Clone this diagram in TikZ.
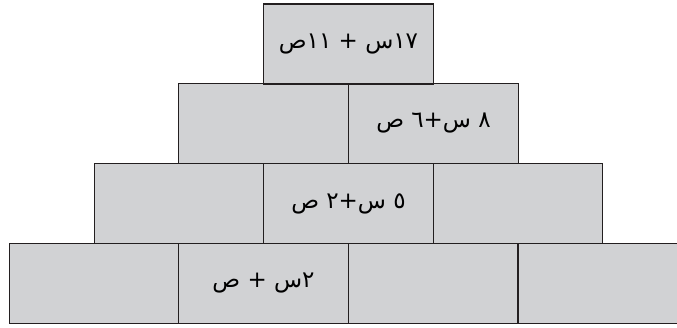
\documentclass[tikz,border=0pt]{standalone}
\usepackage{fontspec}
\newfontfamily\arabicfont[Script=Arabic]{DejaVu Sans}
\TeXXeTstate=1
\definecolor{brickfill}{RGB}{209,210,212}
\definecolor{brickline}{RGB}{35,31,32}
\begin{document}
\begin{tikzpicture}
[x=1pt,y=1pt,
brick/.style={rectangle,draw=brickline,fill=brickfill,line width=1.4pt,minimum width=169.5pt,minimum height=80pt,inner sep=0pt,font=\arabicfont\fontsize{23}{27}\selectfont}]
\useasboundingbox (0,0) rectangle (677,327);

\node[brick] (41) at (94,43.5) {};
\node[brick] (42) at (263.5,43.5) {\raisebox{-4pt}{\beginR ٢س + ص\endR}};
\node[brick] (43) at (433,43.5) {};
\node[brick] (44) at (603,43.5) {};

\node[brick] (31) at (179,123.5) {};
\node[brick] (32) at (348.5,123.5) {\raisebox{-4pt}{\beginR ٥ س+٢ ص\endR}};
\node[brick] (33) at (518,123.5) {};

\node[brick] (21) at (263.5,203.5) {};
\node[brick] (22) at (433.5,203.5) {\raisebox{-4pt}{\beginR ٨ س+٦ ص\endR}};

\node[brick] (11) at (348.5,283) {\raisebox{-3pt}{\beginR\beginL ١٧\endL س + ١١ص\endR}};
\end{tikzpicture}
\end{document}
